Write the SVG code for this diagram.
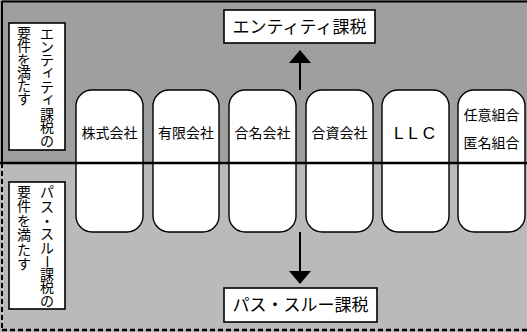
<svg xmlns="http://www.w3.org/2000/svg" width="527" height="332" viewBox="0 0 527 332">
<style>
.txt{font-family:"Noto Sans CJK JP","Noto Sans",sans-serif;fill:#000}
.box{fill:#fff;stroke:#000;stroke-width:1.6}
.pill{fill:#fff;stroke:#000;stroke-width:1.4}
.vc{font-size:14px;text-anchor:middle}
</style>
<g id="background">
<rect x="0" y="0" width="527" height="163" fill="#9f9f9f"/>
<rect x="0" y="163" width="527" height="169" fill="#bababa"/>
<line x1="2" y1="1.5" x2="527" y2="1.5" stroke="#000" stroke-width="2"/>
<line x1="2" y1="1" x2="2" y2="163" stroke="#000" stroke-width="2"/>
<line x1="2" y1="163" x2="2" y2="331" stroke="#000" stroke-width="2" stroke-dasharray="5,3"/>
<line x1="2" y1="330" x2="527" y2="330" stroke="#000" stroke-width="2.5" stroke-dasharray="5,3"/>
</g>
<g id="cond-entity">
<rect class="box" x="9" y="23" width="56" height="127"/>
<text class="txt vc" x="47 47 47 48.5 47 48.5 47 47 47" y="38.5 51.9 65.3 75.7 92.1 102.5 118.9 132.3 145.7">エンティティ課税の</text>
<text class="txt vc" x="24 24 24 24 24 24" y="38 51 64.5 78 91 103.5">要件を満たす</text>
</g>
<g id="cond-pass">
<rect class="box" x="9" y="182" width="56" height="127"/>
<text class="txt vc" x="47 47 47 47 47" y="197.3 211.7 226.2 239.3 253.3">パス・スル</text>
<text class="txt vc" x="47" y="266.7" transform="rotate(90 47 261.7)">ー</text>
<text class="txt vc" x="47 47 47" y="278.5 292.3 305.7">課税の</text>
<text class="txt vc" x="24 24 24 24 24 24" y="196.5 211 225.5 240 254.5 269">要件を満たす</text>
</g>
<g id="kabushiki">
<rect class="pill" x="76" y="90" width="67" height="142" rx="16"/>
<text class="txt" x="109.5" y="138" font-size="14" text-anchor="middle">株式会社</text>
</g>
<g id="yugen">
<rect class="pill" x="153" y="90" width="66" height="142" rx="16"/>
<text class="txt" x="186" y="138" font-size="14" text-anchor="middle">有限会社</text>
</g>
<g id="gomei">
<rect class="pill" x="229" y="90" width="67" height="142" rx="16"/>
<text class="txt" x="262.5" y="138" font-size="14" text-anchor="middle">合名会社</text>
</g>
<g id="goshi">
<rect class="pill" x="306" y="90" width="67" height="142" rx="16"/>
<text class="txt" x="339.5" y="138" font-size="14" text-anchor="middle">合資会社</text>
</g>
<g id="llc">
<rect class="pill" x="382" y="90" width="67" height="142" rx="16"/>
<text x="417" y="139" font-family="'Liberation Sans',Arial,sans-serif" font-size="17" letter-spacing="5" text-anchor="middle">LLC</text>
</g>
<g id="kumiai">
<rect class="pill" x="458" y="90" width="67" height="142" rx="16"/>
<text class="txt" x="491.5" y="120" font-size="14" text-anchor="middle">任意組合</text>
<text class="txt" x="491.5" y="148" font-size="14" text-anchor="middle">匿名組合</text>
</g>
<g id="divider">
<line x1="0" y1="163" x2="527" y2="163" stroke="#000" stroke-width="2.5"/>
</g>
<g id="entity-tax">
<rect class="box" x="224" y="10" width="151" height="33"/>
<text class="txt" x="299.5" y="33" font-size="17" text-anchor="middle">エンティティ課税</text>
</g>
<g id="pass-tax">
<rect class="box" x="224" y="288" width="153" height="34"/>
<text class="txt" x="300.5" y="311" font-size="17" text-anchor="middle">パス・スルー課税</text>
</g>
<g id="connectors">
<line x1="300" y1="90" x2="300" y2="62" stroke="#000" stroke-width="2"/>
<path d="M289,63 L311,63 L300,50 z" fill="#000"/>
<line x1="300" y1="232" x2="300" y2="272" stroke="#000" stroke-width="2"/>
<path d="M289,271 L311,271 L300,284 z" fill="#000"/>
</g>
</svg>
